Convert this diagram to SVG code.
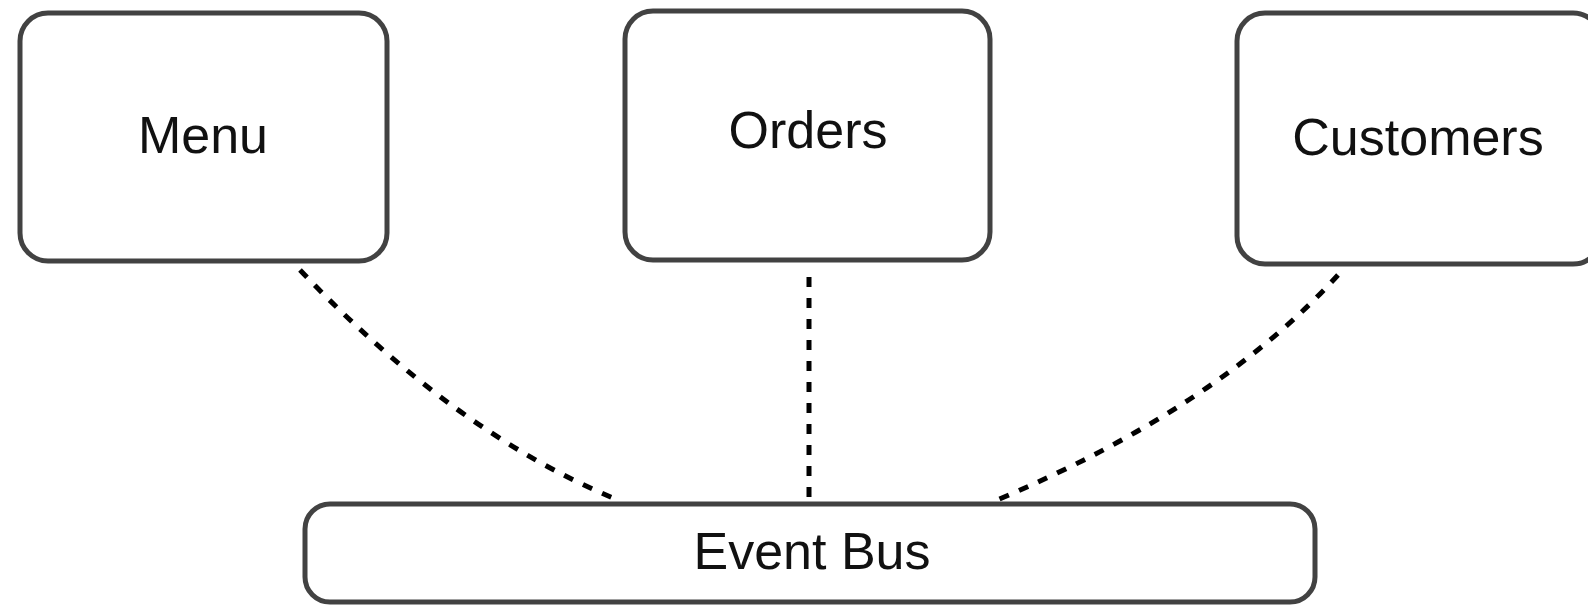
<svg xmlns="http://www.w3.org/2000/svg" width="1588" height="605" viewBox="0 0 1588 605">
<style>
.box{fill:#ffffff;stroke:#424242;stroke-width:5}
.lbl{font-family:"Liberation Sans",Arial,sans-serif;font-size:52px;fill:#111111;text-anchor:middle}
.conn{fill:none;stroke:#000000;stroke-width:5;stroke-dasharray:10 11}
</style>
<rect width="1588" height="605" fill="#ffffff"/>
<g id="connectors">
<path class="conn" d="M300,270 Q453,431 613,498"/>
<path class="conn" d="M809,277 L809,500"/>
<path class="conn" d="M1338,275 Q1218,407 997,500"/>
</g>
<g id="menu">
<rect class="box" x="20" y="13" width="367" height="248" rx="28" ry="28"/>
<text class="lbl" x="203" y="153">Menu</text>
</g>
<g id="orders">
<rect class="box" x="625" y="11" width="365" height="249" rx="28" ry="28"/>
<text class="lbl" x="808" y="148">Orders</text>
</g>
<g id="customers">
<rect class="box" x="1237" y="13" width="364" height="251" rx="28" ry="28"/>
<text class="lbl" x="1418" y="155">Customers</text>
</g>
<g id="event-bus">
<rect class="box" x="305" y="504" width="1010" height="98" rx="25" ry="25"/>
<text class="lbl" x="812" y="569">Event Bus</text>
</g>
</svg>
